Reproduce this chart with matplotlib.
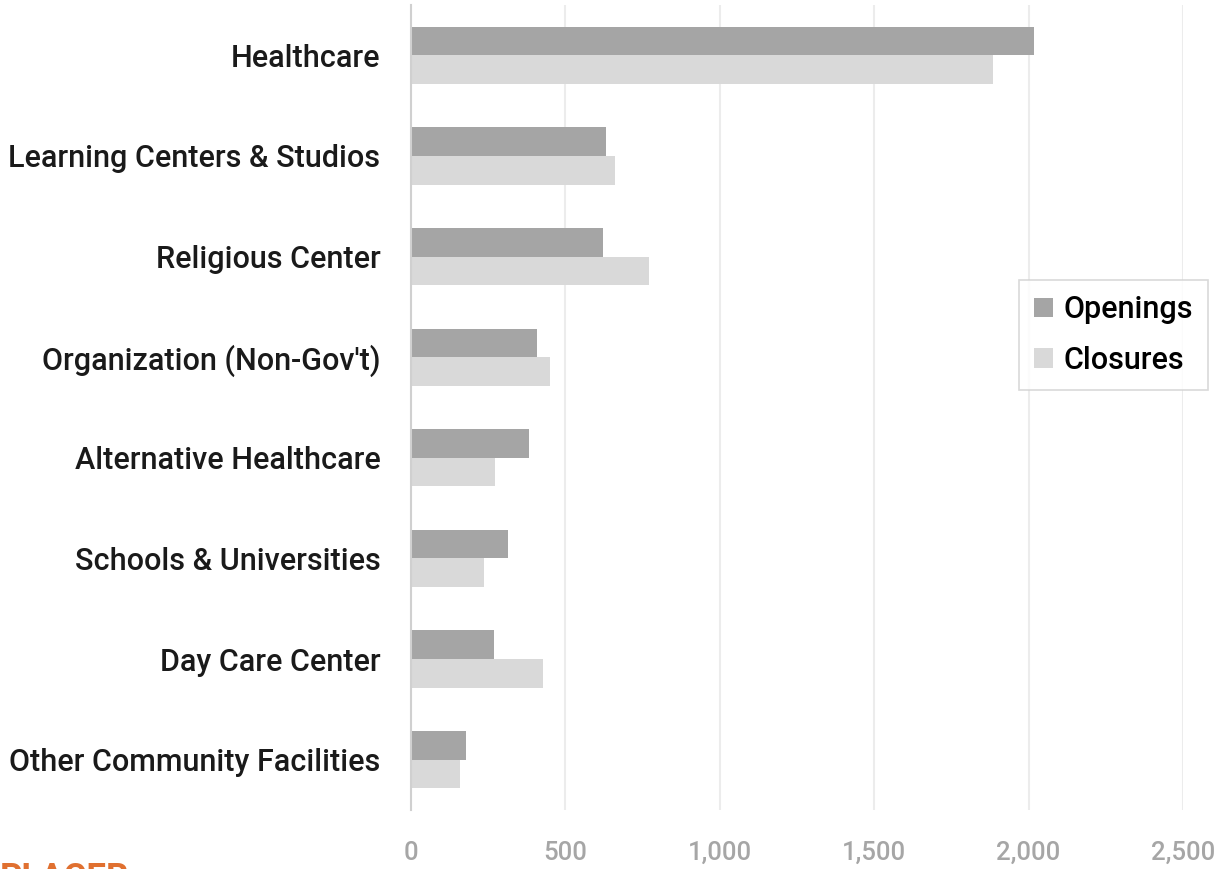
import matplotlib
matplotlib.use('Agg')
import matplotlib.pyplot as plt
import numpy as np

# palette
OPEN_C = '#a5a5a5'
CLOSE_C = '#d9d9d9'
GRID = '#ececec'
AXIS = '#d0d0d0'
TICK = '#a6a6a6'
INK = '#1a1a1a'
ORANGE = '#e07030'

categories = ['Healthcare', 'Learning Centers & Studios', 'Religious Center',
              'Organization (Non-Gov\'t)', 'Alternative Healthcare',
              'Schools & Universities', 'Day Care Center', 'Other Community Facilities']
openings = [2019, 631, 623, 409, 383, 315, 270, 179]
closures = [1886, 661, 772, 451, 273, 237, 429, 160]
xticks = [0, 500, 1000, 1500, 2000, 2500]

plt.rcParams['font.family'] = ['Roboto', 'DejaVu Sans']

fig = plt.figure(figsize=(12.24, 8.69), dpi=100)
ax = fig.add_axes([411 / 1224, 1 - 810 / 869, (1183 - 411) / 1224, 805 / 869])

y = np.arange(len(categories))
h = 0.285
ax.barh(y - h / 2, openings, height=h, color=OPEN_C, label='Openings', zorder=3)
ax.barh(y + h / 2, closures, height=h, color=CLOSE_C, label='Closures', zorder=3)

ax.set_ylim(len(categories) - 0.5, -0.5)
ax.set_xlim(0, 2500)
ax.set_yticks(y)
ax.set_yticklabels(categories, fontsize=22, color=INK, fontweight='medium')
ax.set_xticks(xticks)
ax.set_xticklabels([f'{v:,}' for v in xticks], fontsize=18.5, color=TICK,
                   fontweight='medium')
ax.tick_params(axis='both', length=0)
ax.tick_params(axis='y', pad=22)
ax.tick_params(axis='x', pad=22.5)

ax.grid(axis='x', color=GRID, linewidth=1.5, zorder=0)
for s in ['top', 'right', 'bottom']:
    ax.spines[s].set_visible(False)
ax.spines['left'].set_color(AXIS)
ax.spines['left'].set_linewidth(1.5)
ax.spines['left'].set_zorder(4)

leg = ax.legend(loc='upper left', bbox_to_anchor=((1019 - 411) / 772, 1 - (280 - 5) / 805),
                prop={'weight': 'medium', 'size': 22},
                frameon=True, fancybox=False, handlelength=0.6, handleheight=0.6,
                handletextpad=0.35, borderpad=0.5, labelspacing=0.7,
                borderaxespad=0)
leg.get_frame().set_edgecolor(AXIS)
leg.get_frame().set_linewidth(1.2)

# cropped logo at bottom-left corner
fig.text(0.0, -19 / 869, 'PLACER', color=ORANGE, fontsize=25, fontweight='bold',
         va='baseline', ha='left')

fig.savefig('out.png', dpi=100, facecolor='white')
